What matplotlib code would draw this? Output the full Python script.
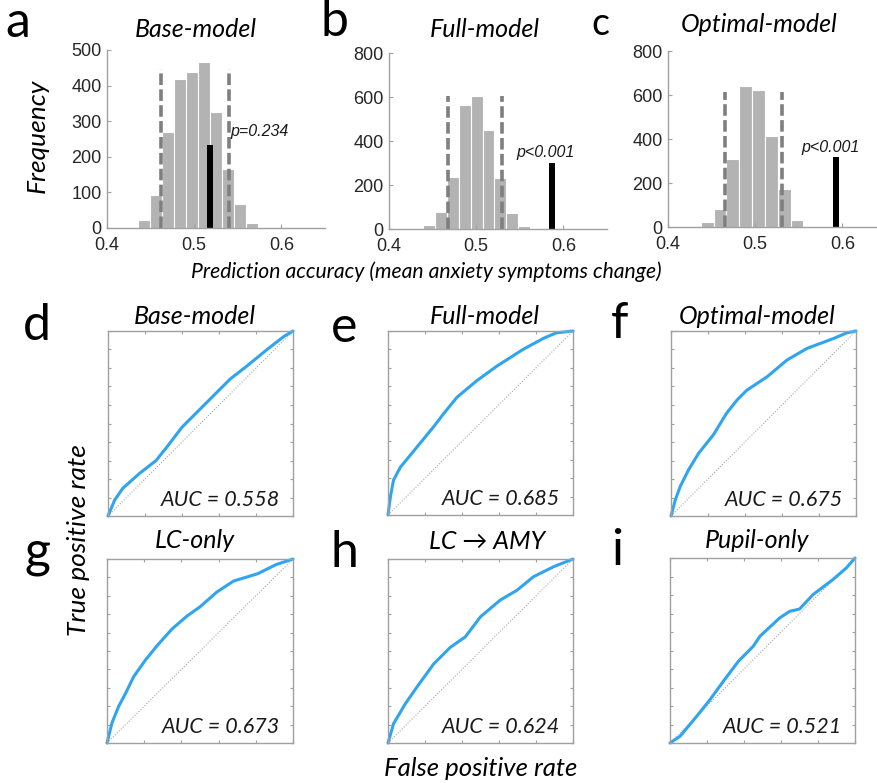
import numpy as np
import matplotlib
matplotlib.use('Agg')
import matplotlib.pyplot as plt

W, H = 877, 783
SANS = ['Lato', 'DejaVu Sans']
ARIAL = ['Liberation Sans', 'DejaVu Sans']

# ---- permutation histograms (a-c) ----
hist_titles = ['Base-model', 'Full-model', 'Optimal-model']
hist_letters = ['a', 'b', 'c']
bin_left_a = [0.4356, 0.4494, 0.4631, 0.4769, 0.4907, 0.5045, 0.5182, 0.5320, 0.5458, 0.5596]
counts_a = [22, 94, 270, 418, 438, 465, 326, 165, 68, 14]
bin_left_b = [0.4394, 0.4530, 0.4666, 0.4801, 0.4937, 0.5073, 0.5209, 0.5345, 0.5480]
counts_b = [18, 78, 238, 563, 605, 450, 232, 74, 14]
bin_left_c = [0.4229, 0.4376, 0.4523, 0.4670, 0.4817, 0.4964, 0.5111, 0.5258, 0.5405, 0.5552]
counts_c = [3, 21, 80, 311, 640, 625, 413, 175, 30, 5]
bin_width = [0.0138, 0.0136, 0.0147]
observed_acc = [0.5185, 0.5866, 0.5928]
observed_height = [234, 302, 318]
ci_low = [0.4623, 0.4673, 0.4658]
ci_high = [0.5400, 0.5300, 0.5308]
ci_top = [448, 606, 614]
p_texts = ['p=0.234', 'p<0.001', 'p<0.001']
p_pos = [(0.5415, 270), (0.5465, 350), (0.553, 362)]
y_max = [500, 800, 800]
y_step = [100, 200, 200]

# ---- ROC curves (d-i) ----
roc_titles = ['Base-model', 'Full-model', 'Optimal-model', 'LC-only', 'LC \u2192 AMY', 'Pupil-only']
roc_letters = ['d', 'e', 'f', 'g', 'h', 'i']
auc = ['0.558', '0.685', '0.675', '0.673', '0.624', '0.521']
fpr_d = [0, 0.036, 0.08, 0.17, 0.26, 0.32, 0.40, 0.50, 0.59, 0.66, 0.75, 0.86, 0.95, 1]
tpr_d = [0, 0.086, 0.15, 0.23, 0.30, 0.375, 0.48, 0.58, 0.67, 0.74, 0.81, 0.90, 0.97, 1]
fpr_e = [0, 0.013, 0.03, 0.067, 0.10, 0.157, 0.247, 0.30, 0.373, 0.48, 0.59, 0.73, 0.84, 0.91, 1]
tpr_e = [0, 0.10, 0.19, 0.26, 0.30, 0.37, 0.48, 0.55, 0.64, 0.73, 0.81, 0.90, 0.96, 0.99, 1]
fpr_f = [0, 0.023, 0.05, 0.095, 0.15, 0.23, 0.30, 0.357, 0.41, 0.52, 0.627, 0.735, 0.88, 0.95, 1]
tpr_f = [0, 0.086, 0.16, 0.25, 0.34, 0.44, 0.555, 0.627, 0.68, 0.753, 0.843, 0.906, 0.96, 0.99, 1]
fpr_g = [0, 0.027, 0.063, 0.10, 0.143, 0.206, 0.27, 0.35, 0.43, 0.50, 0.59, 0.68, 0.81, 0.91, 1]
tpr_g = [0, 0.11, 0.20, 0.27, 0.36, 0.45, 0.53, 0.62, 0.69, 0.74, 0.82, 0.88, 0.92, 0.97, 1]
fpr_h = [0, 0.03, 0.094, 0.157, 0.247, 0.337, 0.418, 0.50, 0.607, 0.697, 0.787, 0.895, 1]
tpr_h = [0, 0.105, 0.214, 0.305, 0.43, 0.52, 0.577, 0.686, 0.777, 0.83, 0.904, 0.958, 1]
fpr_i = [0, 0.054, 0.144, 0.216, 0.288, 0.369, 0.45, 0.486, 0.593, 0.647, 0.70, 0.773, 0.88, 0.953, 1]
tpr_i = [0, 0.036, 0.144, 0.234, 0.333, 0.441, 0.523, 0.577, 0.676, 0.712, 0.724, 0.802, 0.883, 0.946, 1]
roc_fpr = [fpr_d, fpr_e, fpr_f, fpr_g, fpr_h, fpr_i]
roc_tpr = [tpr_d, tpr_e, tpr_f, tpr_g, tpr_h, tpr_i]

fig = plt.figure(figsize=(W / 100, H / 100), dpi=100)


def px_axes(x0, y0, x1, y1):
    return fig.add_axes([x0 / W, 1 - y1 / H, (x1 - x0) / W, (y1 - y0) / H])


def px_text(x, y, s, **kw):
    fig.text(x / W, 1 - y / H, s, **kw)


# histogram panels
hist_box = [(107, 50, 325, 228), (389, 53, 607, 229), (668, 51, 886, 227)]
bins = [bin_left_a, bin_left_b, bin_left_c]
counts = [counts_a, counts_b, counts_c]
title_pos = [(196, 37), (485, 37), (759, 32)]
letter_pos = [(5, 37, 36), (320, 36, 36), (591, 35, 27)]
for k in range(3):
    ax = px_axes(*hist_box[k])
    ax.bar(bins[k], counts[k], width=bin_width[k], align='edge',
           color='#b3b3b3', edgecolor='white', linewidth=0.8)
    ax.bar(observed_acc[k], observed_height[k], width=0.0072, color='black')
    for xv in (ci_low[k], ci_high[k]):
        ax.plot([xv, xv], [0, ci_top[k]], color='#7f7f7f', lw=2.6,
                linestyle=(0, (3.2, 1.2)))
    ax.text(p_pos[k][0], p_pos[k][1], p_texts[k], fontsize=11.5, style='italic',
            family=ARIAL, color='#1a1a1a', va='center')
    ax.set_xlim(0.4, 0.65)
    ax.set_ylim(0, y_max[k])
    ax.set_xticks([0.4, 0.5, 0.6])
    ax.set_xticklabels(['0.4', '0.5', '0.6'])
    ax.set_yticks(np.arange(0, y_max[k] + 1, y_step[k]))
    for s in ('top', 'right'):
        ax.spines[s].set_visible(False)
    for s in ('left', 'bottom'):
        ax.spines[s].set_color('#a0a0a0')
        ax.spines[s].set_linewidth(1.0)
    ax.tick_params(direction='in', length=3, color='#a0a0a0', labelsize=13,
                   labelcolor='#262626')
    ax.tick_params(axis='x', pad=6.5)
    ax.tick_params(axis='y', pad=4)
    for lab in ax.get_xticklabels() + ax.get_yticklabels():
        lab.set_family(ARIAL)
    px_text(title_pos[k][0], title_pos[k][1], hist_titles[k], fontsize=18,
            style='italic', family=SANS, ha='center', va='baseline')
    lx, ly, lsz = letter_pos[k]
    px_text(lx, ly, hist_letters[k], fontsize=lsz, family=SANS, va='baseline')

# ROC panels
roc_box = [(108, 331, 293, 516), (388, 331, 573, 515), (671, 331, 856, 516),
           (107, 559, 293, 743), (388, 559, 573, 743), (670, 558, 855, 743)]
roc_title_pos = [(195, 324), (485, 324), (757, 324), (195, 548), (487, 549), (757, 548)]
roc_letter_pos = [(23, 340), (331, 342), (611, 338), (25, 567), (331, 567), (611, 565)]
for k in range(6):
    ax = px_axes(*roc_box[k])
    ax.plot([0, 1], [0, 1], color='#a8a8a8', lw=0.8, linestyle=(0, (1, 1.5)))
    ax.plot(roc_fpr[k], roc_tpr[k], color='#2fa4ef', lw=2.2,
            solid_joinstyle='round', solid_capstyle='round', clip_on=False)
    ax.set_xlim(0, 1)
    ax.set_ylim(0, 1)
    ax.set_xticks(np.linspace(0, 1, 6))
    ax.set_yticks(np.linspace(0, 1, 11))
    ax.tick_params(direction='in', length=2.5, color='#a0a0a0', width=0.8,
                   top=True, right=True, labelbottom=False, labelleft=False)
    for s in ax.spines.values():
        s.set_color('#a0a0a0')
        s.set_linewidth(1.0)
    ax.text(0.93, 0.085, 'AUC = ' + auc[k], transform=ax.transAxes,
            ha='right', va='center', fontsize=15.5, style='italic', family=SANS,
            color='#1a1a1a')
    px_text(roc_title_pos[k][0], roc_title_pos[k][1], roc_titles[k], fontsize=18,
            style='italic', family=SANS, ha='center', va='baseline')
    px_text(roc_letter_pos[k][0], roc_letter_pos[k][1], roc_letters[k],
            fontsize=36, family=SANS, va='baseline')

# shared axis labels
px_text(37, 136, 'Frequency', fontsize=19, style='italic', family=SANS,
        rotation=90, ha='center', va='center')
px_text(426, 278, 'Prediction accuracy (mean anxiety symptoms change)', fontsize=15.2,
        style='italic', family=SANS, ha='center', va='baseline')
px_text(78, 540, 'True positive rate', fontsize=19, style='italic', family=SANS,
        rotation=90, ha='center', va='center')
px_text(481, 776, 'False positive rate', fontsize=18.5, style='italic', family=SANS,
        ha='center', va='baseline')

fig.savefig('out.png', dpi=100)
